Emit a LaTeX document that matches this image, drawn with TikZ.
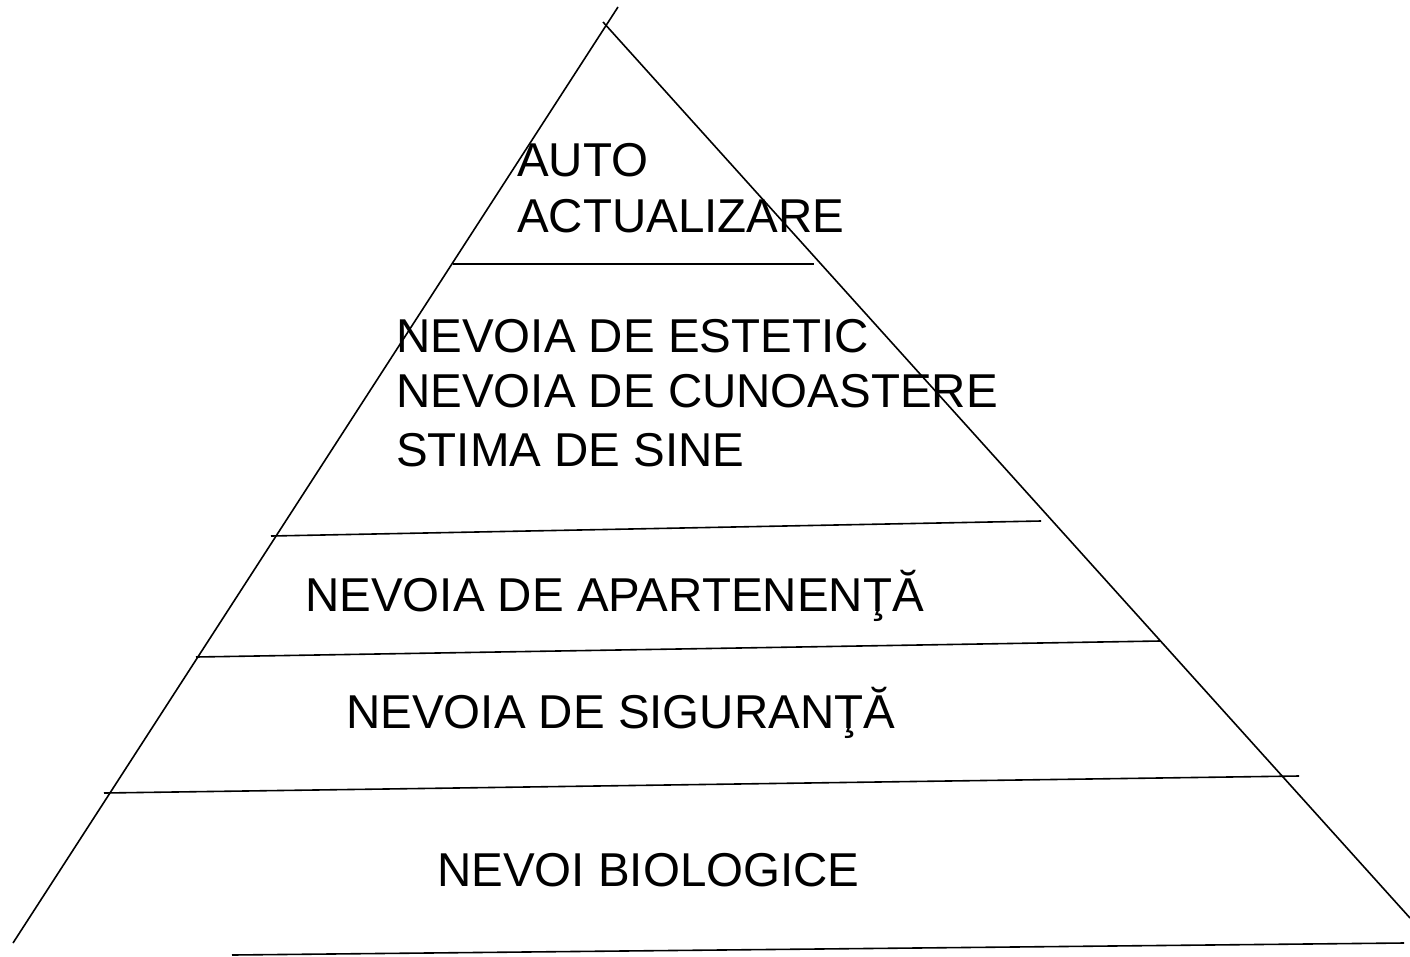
\documentclass[tikz,border=0pt]{standalone}
\usepackage{fontspec}
\setmainfont{Liberation Sans}
\begin{document}
\begin{tikzpicture}[x=1pt,y=-1pt,
  edge/.style={line width=1.6pt,black},
  lbl/.style={anchor=base west,inner sep=0pt,font=\fontsize{47.5}{55}\selectfont}]
\useasboundingbox (0,0) rectangle (1410,956);
% triangle sides
\draw[edge] (13,943) -- (618,7);
\draw[edge] (603,22) -- (1410,918);
% level lines
\draw[edge] (453,264) -- (814,264);
\draw[edge] (271,536) -- (1041,521);
\draw[edge] (196,657) -- (1160,641);
\draw[edge] (104,793) -- (1299,776);
\draw[edge] (232,955) -- (1404,943);
% labels
\node[lbl] (auto) at (517,176) {AUTO};
\node[lbl] (act) at (517,232) {ACTUALIZARE};
\node[lbl] (est) at (396,352) {NEVOIA DE ESTETIC};
\node[lbl] (cun) at (396,407) {NEVOIA DE CUNOASTERE};
\node[lbl] (stim) at (396,466) {STIMA DE SINE};
\node[lbl] (apar) at (305,611) {NEVOIA DE APARTENENŢĂ};
\node[lbl] (sig) at (346,728) {NEVOIA DE SIGURANŢĂ};
\node[lbl] (bio) at (437,886) {NEVOI BIOLOGICE};
\end{tikzpicture}
\end{document}
